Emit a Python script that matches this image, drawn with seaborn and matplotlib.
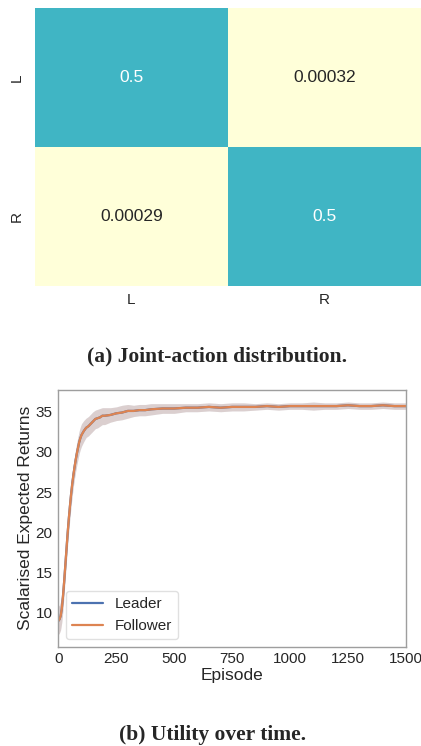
import numpy as np
import pandas as pd
import matplotlib
matplotlib.use("Agg")
import matplotlib.pyplot as plt
import seaborn as sns

# ---------------- data ----------------
actions = ["L", "R"]
joint_probs = [[0.5, 0.00032],
               [0.00029, 0.5]]

episodes = [0, 5, 10, 15, 20, 25, 30, 35, 40, 45, 50, 55, 60, 65, 70, 75, 80, 85, 90, 95, 100,
            110, 120, 130, 140, 150, 160, 170, 180, 190, 200,
            225, 250, 275, 300, 325, 350, 375, 400,
            450, 500, 550, 600, 650, 700, 750, 800, 850, 900, 950, 1000,
            1050, 1100, 1150, 1200, 1250, 1300, 1350, 1400, 1450, 1500]

follower_mean = [9.0, 9.2, 9.6, 10.5, 12.0, 13.8, 15.8, 17.8, 19.8, 21.6, 23.2, 24.7, 26.0, 27.1, 28.1, 29.0, 29.8, 30.5, 31.2, 31.7, 32.1,
                 32.6, 33.0, 33.2, 33.5, 33.8, 34.1, 34.2, 34.3, 34.5, 34.5,
                 34.6, 34.8, 34.9, 35.1, 35.1, 35.2, 35.2, 35.3,
                 35.4, 35.4, 35.5, 35.5, 35.6, 35.5, 35.6, 35.6, 35.6, 35.7, 35.6, 35.7,
                 35.7, 35.7, 35.7, 35.7, 35.8, 35.7, 35.7, 35.8, 35.7, 35.7]
follower_low = [7.3, 7.5, 7.9, 8.8, 10.3, 12.3, 14.3, 16.3, 18.3, 20.1, 21.7, 23.2, 24.5, 25.7, 26.7, 27.6, 28.4, 29.1, 29.8, 30.3, 30.7,
                31.3, 31.8, 32.0, 32.3, 32.6, 32.9, 33.0, 33.2, 33.4, 33.4,
                33.7, 33.9, 34.0, 34.2, 34.4, 34.5, 34.5, 34.6,
                34.8, 34.8, 35.0, 35.0, 35.1, 35.0, 35.1, 35.1, 35.2, 35.3, 35.2, 35.3,
                35.3, 35.2, 35.3, 35.3, 35.4, 35.3, 35.3, 35.4, 35.3, 35.3]
follower_high = [10.8, 11.0, 11.4, 12.2, 13.7, 15.3, 17.3, 19.3, 21.3, 23.1, 24.7, 26.2, 27.5, 28.5, 29.5, 30.4, 31.2, 31.9, 32.6, 33.1, 33.5,
                 33.9, 34.2, 34.4, 34.7, 35.0, 35.2, 35.3, 35.4, 35.5, 35.5,
                 35.5, 35.6, 35.8, 35.9, 35.8, 35.9, 35.9, 36.0,
                 36.0, 36.0, 36.0, 36.0, 36.1, 36.0, 36.1, 36.1, 36.0, 36.1, 36.0, 36.1,
                 36.1, 36.2, 36.1, 36.1, 36.2, 36.1, 36.1, 36.2, 36.1, 36.1]
leader_mean = list(follower_mean)
leader_low = list(follower_low)
leader_high = list(follower_high)

agents = ["Leader", "Follower"]
x_ticks = [0, 250, 500, 750, 1000, 1250, 1500]

# ---------------- style ----------------
sns.set_theme(style="white")
plt.rcParams['font.family'] = ['Liberation Sans', 'DejaVu Sans']

W, H = 421, 746
fig = plt.figure(figsize=(W / 100, H / 100), dpi=100)

# ---------------- heatmap ----------------
ax1 = fig.add_axes([35 / W, 1 - 286 / H, 386 / W, 278 / H])
hm_df = pd.DataFrame(joint_probs, index=actions, columns=actions)
sns.heatmap(hm_df, annot=True, cmap="YlGnBu", vmin=0, vmax=1, cbar=False,
            ax=ax1, annot_kws={"size": 12.5})
ax1.set_xticklabels(actions, fontsize=11)
ax1.set_yticklabels(actions, fontsize=11, rotation=90, va="center")
ax1.tick_params(axis="x", length=0, pad=5)
ax1.tick_params(axis="y", length=0, pad=8)
ax1.set_xlabel("")
ax1.set_ylabel("")

fig.text(217 / W, 1 - 356 / H, "(a) Joint-action distribution.", ha="center", va="center",
         fontfamily="Liberation Serif", fontweight="bold", fontsize=15.5)

# ---------------- line plot ----------------
ax2 = fig.add_axes([58.3 / W, 1 - 646.7 / H, 347.7 / W, 256.7 / H])
pal = sns.color_palette("deep")
rows = []
for agent, mean in zip(agents, [leader_mean, follower_mean]):
    for e, v in zip(episodes, mean):
        rows.append({"Episode": e, "Returns": v, "Agent": agent})
line_df = pd.DataFrame(rows)

for i, (lo, hi) in enumerate([(leader_low, leader_high), (follower_low, follower_high)]):
    ax2.fill_between(episodes, lo, hi, color=pal[i], alpha=0.2, linewidth=0)

sns.lineplot(data=line_df, x="Episode", y="Returns", hue="Agent", hue_order=agents,
             palette=[pal[0], pal[1]], linewidth=1.6, errorbar=None, ax=ax2)

ax2.set_xlim(0, 1500)
ax2.set_ylim(5.8, 37.7)
ax2.set_xticks(x_ticks)
ax2.set_yticks([10, 15, 20, 25, 30, 35])
ax2.tick_params(labelsize=11, length=0, pad=4)
ax2.set_xlabel("Episode", fontsize=12.5, labelpad=1)
ax2.set_ylabel("Scalarised Expected Returns", fontsize=12.5, labelpad=2)
for s in ax2.spines.values():
    s.set_color("0.62")
    s.set_linewidth(1.0)
leg = ax2.legend(loc="lower left", fontsize=11, frameon=True, title=None)
leg.get_frame().set_edgecolor("0.85")

fig.text(213 / W, 1 - 735 / H, "(b) Utility over time.", ha="center", va="center",
         fontfamily="Liberation Serif", fontweight="bold", fontsize=15.5)

fig.savefig("out.png", dpi=100)
